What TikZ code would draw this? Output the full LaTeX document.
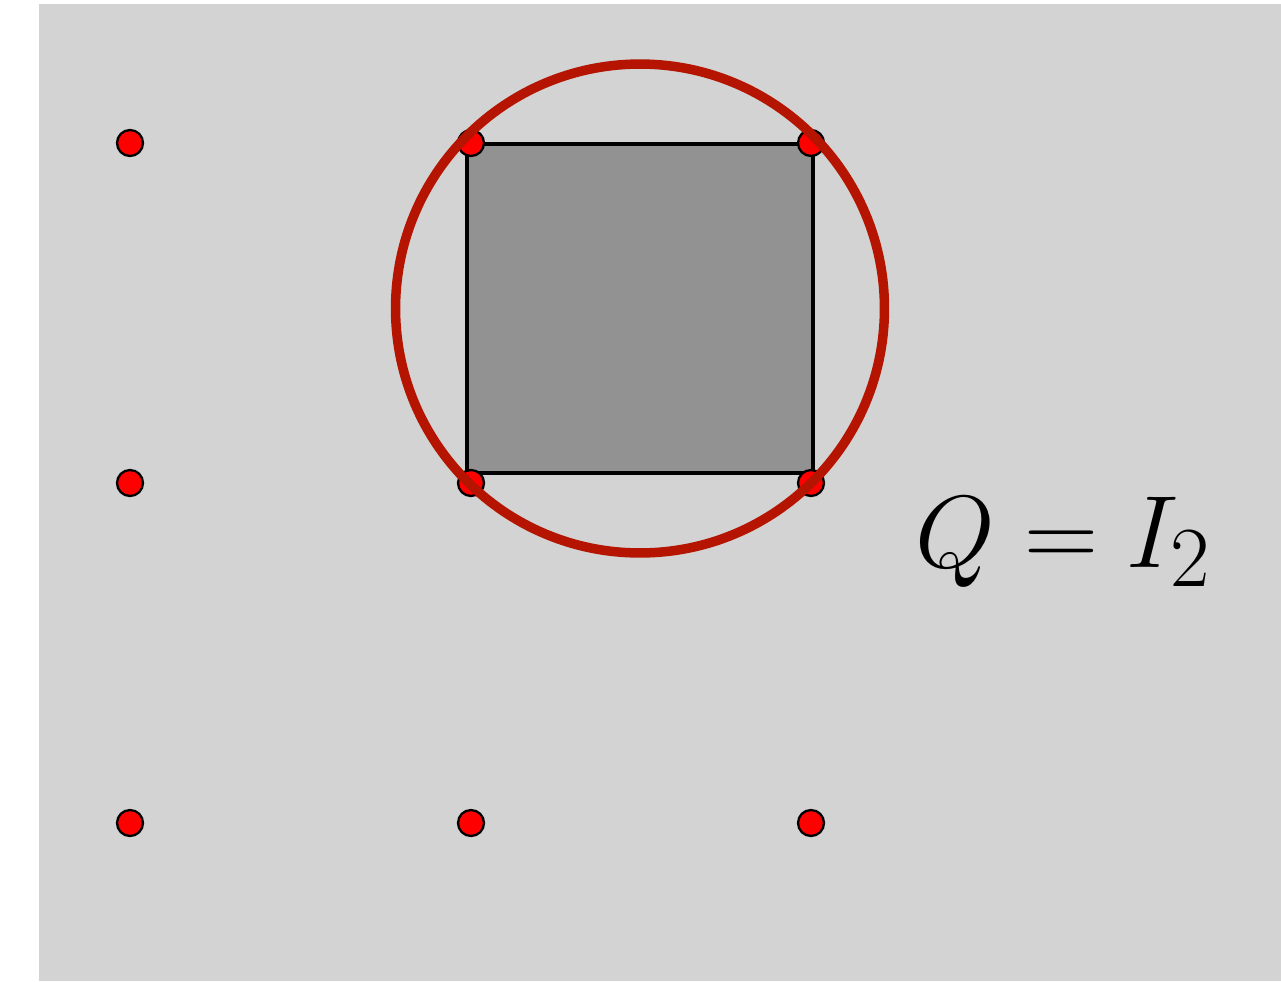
\documentclass[tikz,border=0pt]{standalone}
\usepackage{tikz}
\usetikzlibrary{positioning}
\definecolor{bgpanel}{RGB}{211,211,211}
\definecolor{cellfill}{RGB}{146,146,146}
\definecolor{dotred}{RGB}{255,0,0}
\definecolor{ringred}{RGB}{180,20,0}

\begin{document}
\begin{tikzpicture}[
  x=0.02cm, y=-0.02cm,
  dot/.style={circle, draw=black, line width=1.3pt, fill=dotred,
              inner sep=0pt, minimum size=0.52cm},
  cell/.style={draw=black, line width=2.4pt, fill=cellfill},
  ring/.style={draw=ringred, line width=5.4pt},
  eqlab/.style={font=\Huge, text=black, scale=2.35},
]

% canvas and background
\useasboundingbox (0,0) rectangle (1281,981);
\fill[bgpanel] (39,4) rectangle (1281,981);

% square cell
\draw[cell] (467,144) rectangle (813,473);

% lattice points
\foreach \i/\x in {1/130,2/471,3/811}{
  \foreach \j/\y in {1/143,2/483,3/823}{
    \node[dot] (p\i\j) at (\x,\y) {};
  }
}

% circumscribed circle
\coordinate (ctr) at (640,308.5);
\draw[ring] (ctr) circle[radius=4.89cm];

% label
\node[eqlab, anchor=base] (eq) at (1064,567) {$Q=I_2$};

\end{tikzpicture}
\end{document}
